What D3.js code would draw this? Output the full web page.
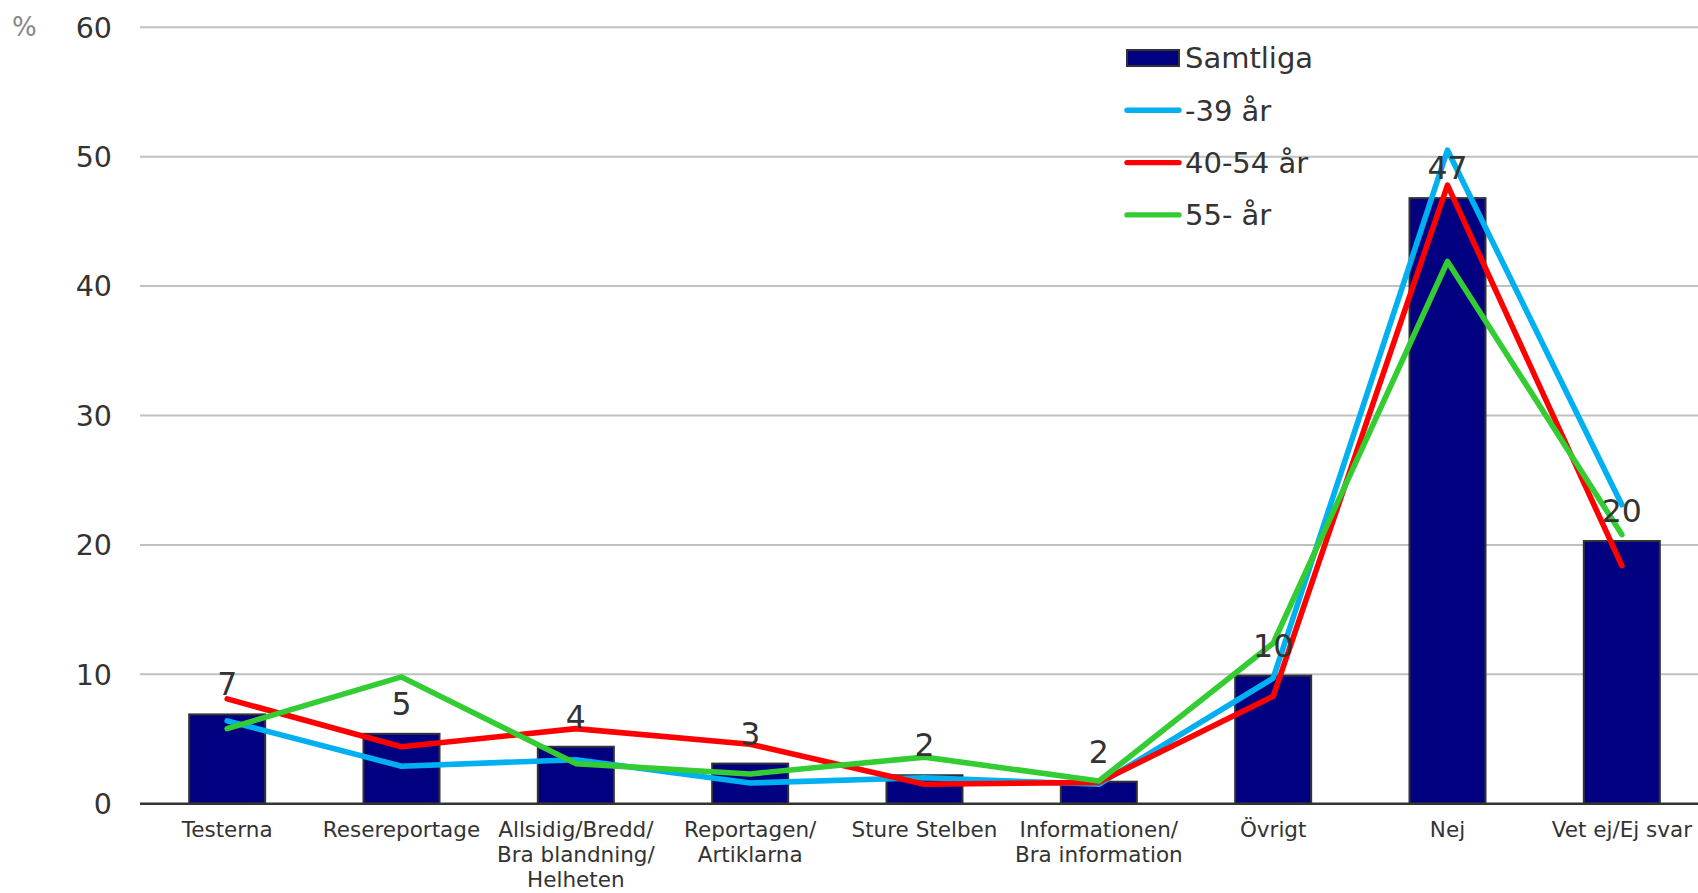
<!DOCTYPE html>
<meta charset='utf-8'>
<script src='https://d3js.org/d3.v7.min.js'></script>
<style>
  body { margin: 0; background: #fff; }
  text { font-family: 'DejaVu Sans', Verdana, sans-serif; }
</style>
<body>
<script>
var categories = [
  ['Testerna'],
  ['Resereportage'],
  ['Allsidig/Bredd/', 'Bra blandning/', 'Helheten'],
  ['Reportagen/', 'Artiklarna'],
  ['Sture Stelben'],
  ['Informationen/', 'Bra information'],
  ['Övrigt'],
  ['Nej'],
  ['Vet ej/Ej svar']
];
var samtliga = [6.9, 5.4, 4.4, 3.1, 2.2, 1.7, 9.9, 46.8, 20.3];
var age39 = [6.4, 2.9, 3.4, 1.6, 2.0, 1.5, 9.7, 50.5, 23.1];
var age40 = [8.1, 4.4, 5.8, 4.6, 1.5, 1.65, 8.3, 47.8, 18.4];
var age55 = [5.8, 9.8, 3.1, 2.3, 3.6, 1.75, 12.4, 41.9, 20.8];
var yTicks = [0, 10, 20, 30, 40, 50, 60];

var series = [
  {name: '-39 år', values: age39, color: '#00b0f0'},
  {name: '40-54 år', values: age40, color: '#ff0000'},
  {name: '55- år', values: age55, color: '#33cc33'}
];

var width = 1698, height = 893;
var plotLeft = 140, plotRight = 1709, plotTop = 27.3, plotBottom = 803.7;

var svg = d3.select('body').append('svg').attr('width', width).attr('height', height);

var x = d3.scaleBand().domain(d3.range(categories.length)).range([plotLeft, plotRight])
    .paddingInner(0.564).paddingOuter(0.282);
var y = d3.scaleLinear().domain([0, 60]).range([plotBottom, plotTop]);
var cx = function(i) { return x(i) + x.bandwidth() / 2; };

// grid
svg.append('g').selectAll('line').data(yTicks.filter(function(t) { return t > 0; })).enter().append('line')
    .attr('x1', plotLeft).attr('x2', width)
    .attr('y1', function(d) { return y(d); }).attr('y2', function(d) { return y(d); })
    .attr('stroke', '#c0c0c0').attr('stroke-width', 2);

// y labels
svg.append('g').selectAll('text').data(yTicks).enter().append('text')
    .attr('x', 112).attr('y', function(d) { return y(d); })
    .attr('dy', '0.36em').attr('text-anchor', 'end')
    .attr('font-size', 28.5).attr('fill', '#333')
    .text(function(d) { return d; });

svg.append('text').attr('x', 12).attr('y', 36).attr('font-size', 26).attr('fill', '#888').text('%');

// bars
svg.append('g').selectAll('rect').data(samtliga).enter().append('rect')
    .attr('x', function(d, i) { return x(i); })
    .attr('width', x.bandwidth())
    .attr('y', function(d) { return y(d); })
    .attr('height', function(d) { return y(0) - y(d); })
    .attr('fill', '#000080').attr('stroke', '#333').attr('stroke-width', 2);

// baseline
svg.append('line').attr('x1', plotLeft).attr('x2', width).attr('y1', y(0)).attr('y2', y(0))
    .attr('stroke', '#333').attr('stroke-width', 2.5);

// lines
var line = d3.line().x(function(d, i) { return cx(i); }).y(function(d) { return y(d); });
series.forEach(function(s) {
  svg.append('path').datum(s.values).attr('d', line)
      .attr('fill', 'none').attr('stroke', s.color).attr('stroke-width', 5.6)
      .attr('stroke-linejoin', 'round').attr('stroke-linecap', 'round');
});

// data labels
svg.append('g').selectAll('text').data(samtliga).enter().append('text')
    .attr('x', function(d, i) { return cx(i); })
    .attr('y', function(d) { return y(d) - 19; })
    .attr('text-anchor', 'middle').attr('font-size', 31.5).attr('fill', '#333')
    .text(function(d) { return Math.round(d); });

// category labels
var cat = svg.append('g').selectAll('text').data(categories).enter().append('text')
    .attr('text-anchor', 'middle').attr('font-size', 21.5).attr('fill', '#333');
cat.each(function(lines, i) {
  d3.select(this).selectAll('tspan').data(lines).enter().append('tspan')
      .attr('x', cx(i)).attr('y', function(d, j) { return 837 + j * 25; })
      .text(function(d) { return d; });
});

// legend
var lg = svg.append('g').attr('transform', 'translate(1127,58)');
lg.append('rect').attr('x', 0).attr('y', -8).attr('width', 52).attr('height', 16)
    .attr('fill', '#000080').attr('stroke', '#333').attr('stroke-width', 2);
lg.append('text').attr('x', 58).attr('y', 0).attr('dy', '0.36em').attr('font-size', 29).attr('fill', '#333').text('Samtliga');
series.forEach(function(s, i) {
  var yy = (i + 1) * 52.3;
  lg.append('line').attr('x1', 0).attr('x2', 52).attr('y1', yy).attr('y2', yy)
      .attr('stroke', s.color).attr('stroke-width', 5.4).attr('stroke-linecap', 'round');
  lg.append('text').attr('x', 58).attr('y', yy).attr('dy', '0.36em').attr('font-size', 29).attr('fill', '#333').text(s.name);
});
</script>
